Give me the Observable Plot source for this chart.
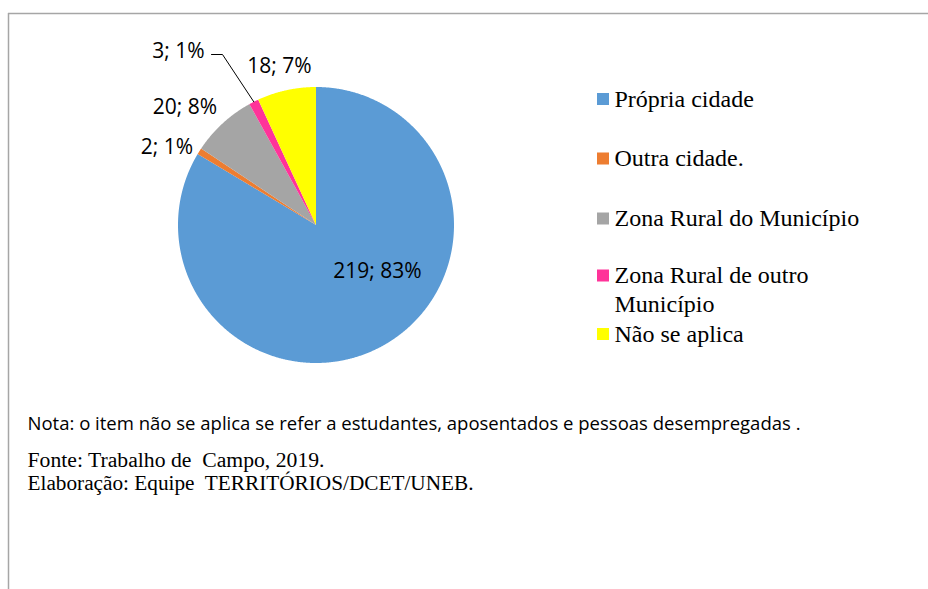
<!DOCTYPE html>
<html><head><meta charset="utf-8">
<script src="https://cdn.jsdelivr.net/npm/d3@7"></script>
<script src="https://cdn.jsdelivr.net/npm/@observablehq/plot@0.6"></script>
<style>body{margin:0;background:#fff}</style>
</head><body><div id="chart"></div>
<script>
// ---- data ----
const categories = ["Própria cidade", "Outra cidade.", "Zona Rural do Município", "Zona Rural de outro Município", "Não se aplica"];
const counts = [219, 2, 20, 3, 18];
const percents = [83, 1, 8, 1, 7];
const colors = ["#5B9BD5", "#ED7D31", "#A5A5A5", "#FF3399", "#FFFF00"];
const legendText = ["Própria cidade", "Outra cidade.", "Zona Rural do Município", "Zona Rural de outro\nMunicípio", "Não se aplica"];
const note = "Nota: o item não se aplica se refer a estudantes, aposentados e pessoas desempregadas .";
const source = "Fonte: Trabalho de  Campo, 2019.";
const credit = "Elaboração: Equipe  TERRITÓRIOS/DCET/UNEB.";

// ---- layout ----
const W = 928, H = 589, cx = 315.5, cy = 224.5, R = 138;
const labelAt = [[377, 277], [166.5, 153], [184.5, 113], [178, 57], [279, 72]]; // label centre x, baseline y
const legendY = [99, 158.5, 218.5, 275.5, 334];
const legendLH = 29;

const data = categories.map((c, i) => ({cat: c, count: counts[i], pct: percents[i], legend: legendText[i]}));
const arcs = d3.pie().sort(null).value(d => d.count)(data);

const pts = [];
arcs.forEach(a => {
  pts.push({cat: a.data.cat, x: cx, y: cy});
  const n = Math.max(2, Math.ceil((a.endAngle - a.startAngle) / 0.005));
  for (let k = 0; k <= n; k++) {
    const t = a.startAngle + (a.endAngle - a.startAngle) * k / n;
    pts.push({cat: a.data.cat, x: cx + R * Math.sin(t), y: cy - R * Math.cos(t)});
  }
  pts.push({cat: a.data.cat, x: cx, y: cy});
});

const labels = arcs.map((a, i) => ({text: `${a.data.count}; ${a.data.pct}%`, x: labelAt[i][0], y: labelAt[i][1]}));

const pinkArc = arcs[3];
const mid = (pinkArc.startAngle + pinkArc.endAngle) / 2;
const leader = [{x: 211, y: 54}, {x: 222, y: 54}, {x: cx + R * Math.sin(mid), y: cy - R * Math.cos(mid)}];

const legend = data.map((d, i) => ({...d, yc: legendY[i], lines: d.legend.split("\n").length}));

const footer = [
  {text: note, x: 27, y: 429, font: "Open Sans", size: 18.5, len: 773},
  {text: source, x: 27, y: 466, font: "Liberation Serif", size: 20, len: 297},
  {text: credit, x: 27, y: 489, font: "Liberation Serif", size: 20, len: 446}
];

const chart = Plot.plot({
  width: W, height: H, margin: 0,
  x: {domain: [0, W], range: [0, W], axis: null},
  y: {domain: [0, H], range: [0, H], axis: null},
  color: {domain: categories, range: colors},
  style: {background: "#fff"},
  marks: [
    Plot.ruleY([13], {x1: 8, x2: W, stroke: "#a6a6a6", strokeWidth: 1.5}),
    Plot.ruleX([8], {y1: 13, y2: H, stroke: "#a6a6a6", strokeWidth: 1.5}),
    Plot.line(pts, {x: "x", y: "y", z: "cat", fill: "cat", stroke: "none", curve: "linear"}),
    Plot.line(leader, {x: "x", y: "y", stroke: "#000", strokeWidth: 1}),
    Plot.text(labels, {x: "x", y: "y", text: "text", textAnchor: "middle", lineAnchor: "bottom",
      fontFamily: "Open Sans", fontSize: 21, fill: "#000"}),
    Plot.rect(legend, {x1: () => 597, x2: () => 609, y1: d => d.yc - 6, y2: d => d.yc + 6, fill: "cat"}),
    Plot.text(legend, {x: () => 614, y: d => d.yc + 7 + (d.lines - 1) * legendLH, text: "legend",
      textAnchor: "start", lineAnchor: "bottom", lineHeight: legendLH / 24,
      fontFamily: "Liberation Serif", fontSize: 24, fill: "#000"}),
    ...footer.map(f => Plot.text([f], {x: "x", y: "y", text: "text", textAnchor: "start", lineAnchor: "bottom",
      fontFamily: f.font, fontSize: f.size, fill: "#000"}))
  ]
});
document.getElementById("chart").appendChild(chart);

// fit footer text widths
chart.querySelectorAll("text").forEach(t => {
  const f = footer.find(f => f.text === t.textContent);
  if (f) {
    t.style.whiteSpace = "pre";
    t.setAttribute("textLength", f.len);
    t.setAttribute("lengthAdjust", "spacingAndGlyphs");
  }
});
</script>
</body></html>
